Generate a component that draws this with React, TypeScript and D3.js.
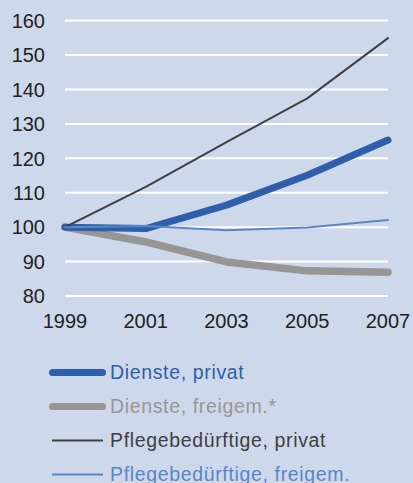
import React from "react";
import * as d3 from "d3";

const years = [1999, 2001, 2003, 2005, 2007];
const diensteP = [100, 99.6, 106.4, 115.1, 125.3];
const diensteF = [100, 95.7, 89.9, 87.3, 86.9];
const pflegeP = [100, 111.7, 124.7, 137.4, 154.9];
const pflegeF = [100, 100.3, 99.1, 99.9, 102.1];
const yTicks = [80, 90, 100, 110, 120, 130, 140, 150, 160];
const seriesNames = ["Dienste, privat", "Dienste, freigem.*", "Pflegebedürftige, privat", "Pflegebedürftige, freigem."];

const W = 413, H = 483;

export default function App() {
  const x = d3.scaleLinear().domain([1999, 2007]).range([65, 388]);
  const y = d3.scaleLinear().domain([80, 160]).range([296, 20.6]);
  const line = d3.line<number>().x((_, i) => x(years[i])).y((d) => y(d));

  const series = [
    { name: seriesNames[1], data: diensteF, color: "#989694", w: 7.5, text: "#989694" },
    { name: seriesNames[0], data: diensteP, color: "#2f5fab", w: 7, text: "#2f5fab" },
    { name: seriesNames[2], data: pflegeP, color: "#404040", w: 2, text: "#404040" },
    { name: seriesNames[3], data: pflegeF, color: "#5a86c8", w: 2, text: "#5a86c8" },
  ];
  const legendOrder = [series[1], series[0], series[2], series[3]];

  return (
    <div style={{ position: "fixed", left: 0, top: 0 }}>
      <svg width={W} height={H} style={{ display: "block", fontFamily: "'Liberation Sans', Arial, sans-serif" }}>
        <rect width={W} height={H} fill="#cdd8ea" />
        {yTicks.map((t) => (
          <g key={t}>
            <line x1={65} x2={388} y1={y(t)} y2={y(t)} stroke="#ffffff" strokeWidth={2} />
            <text x={45} y={y(t) + 7.2} textAnchor="end" fontSize={20} fill="#222">{t}</text>
          </g>
        ))}
        {years.map((yr) => (
          <text key={yr} x={x(yr)} y={328.3} textAnchor="middle" fontSize={20} fill="#222">{yr}</text>
        ))}
        {series.map((s) => (
          <path key={s.name} d={line(s.data) || ""} fill="none" stroke={s.color} strokeWidth={s.w}
            strokeLinecap="round" strokeLinejoin="round" />
        ))}
        {legendOrder.map((s, i) => {
          const cy = 372.5 + i * 34;
          const thick = s.w > 3;
          return (
            <g key={s.name}>
              <line x1={thick ? 52.5 : 52} x2={thick ? 102.5 : 103} y1={cy} y2={cy} stroke={s.color}
                strokeWidth={thick ? 7 : 2} strokeLinecap={thick ? "round" : "butt"} />
              <text x={110} y={cy + 6.8} fontSize={19.5} letterSpacing={0.65} fill={s.text}>{s.name}</text>
            </g>
          );
        })}
      </svg>
    </div>
  );
}
